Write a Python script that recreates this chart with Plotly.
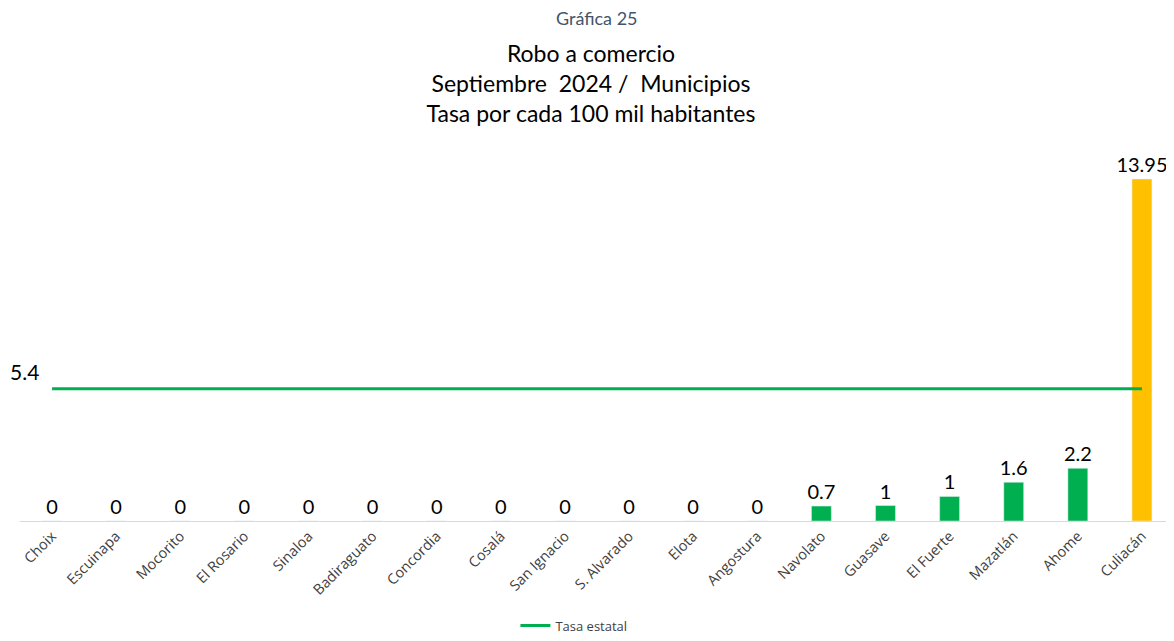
import plotly.graph_objects as go

municipios = ["Choix", "Escuinapa", "Mocorito", "El Rosario", "Sinaloa", "Badiraguato",
              "Concordia", "Cosalá", "San Ignacio", "S. Alvarado", "Elota", "Angostura",
              "Navolato", "Guasave", "El Fuerte", "Mazatlán", "Ahome", "Culiacán"]
tasas = [0, 0, 0, 0, 0, 0, 0, 0, 0, 0, 0, 0, 0.61, 0.63, 1.0, 1.58, 2.15, 13.95]
etiquetas = ["0", "0", "0", "0", "0", "0", "0", "0", "0", "0", "0", "0",
             "0.7", "1", "1", "1.6", "2.2", "13.95"]
tasa_estatal = 5.4

colores = ["#00B050"] * (len(municipios) - 1) + ["#FFC000"]

fig = go.Figure()
fig.add_trace(go.Bar(
    x=municipios, y=tasas, text=etiquetas, textposition="outside",
    textfont=dict(family="Lato, sans-serif", size=20, color="#000000"),
    constraintext="none",
    marker=dict(color=colores), width=0.31, showlegend=False, cliponaxis=False,
))
fig.add_trace(go.Scatter(
    x=municipios, y=[tasa_estatal] * len(municipios), mode="lines",
    line=dict(color="#00B050", width=3), name="Tasa estatal",
))
fig.add_annotation(x=0, xref="paper", y=tasa_estatal, yref="y", text=f"{tasa_estatal}",
                   showarrow=False, xanchor="left", yanchor="bottom", xshift=-12, yshift=3,
                   font=dict(family="Lato, sans-serif", size=21, color="#000000"))
fig.add_annotation(x=0.5, xref="paper", y=1.385, yref="paper", yanchor="middle",
                   text="Gráfica 25", showarrow=False,
                   font=dict(family="Lato, sans-serif", size=18, color="#44546A"))

fig.update_layout(
    width=1166, height=633,
    paper_bgcolor="white", plot_bgcolor="white",
    margin=dict(l=12, r=0, t=150, b=104),
    title=dict(text="Robo a comercio<br>Septiembre  2024 /  Municipios<br>Tasa por cada 100 mil habitantes",
               x=0.5, xanchor="center", y=0.915, yanchor="top",
               font=dict(family="Lato, sans-serif", size=23, color="#000000")),
    xaxis=dict(tickangle=-45, tickfont=dict(family="Open Sans, sans-serif", size=14.5, color="#404040"),
               showgrid=False, showline=True, linecolor="#D9D9D9", linewidth=1, ticks="",
               automargin=False),
    yaxis=dict(visible=False, range=[0, 14.81], automargin=False),
    legend=dict(orientation="h", x=0.48, xanchor="center", y=-0.247, yanchor="top",
                font=dict(family="Open Sans, sans-serif", size=13, color="#404040")),
    bargap=0.69,
)
fig.write_html("out.html")
